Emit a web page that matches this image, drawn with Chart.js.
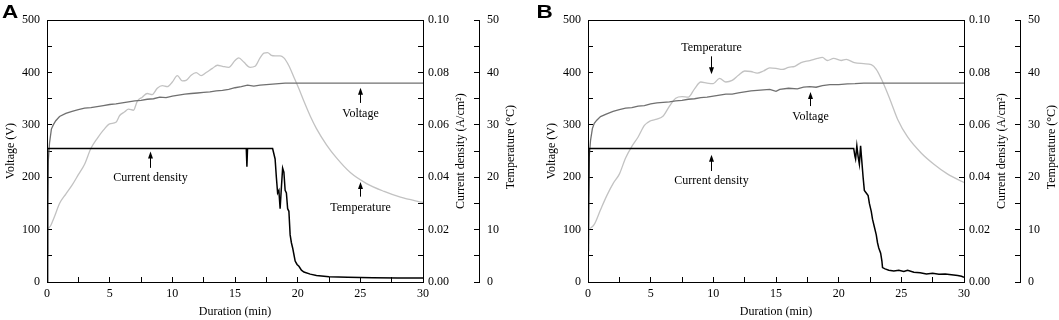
<!doctype html>
<html lang="en">

<head>
    <meta charset="utf-8">
    <title>Voltage, current density and temperature</title>
    <script src="https://cdn.jsdelivr.net/npm/chart.js"></script>
    <style>
        body { margin: 0; background: #fff; }
        .wrap { position: relative; width: 1059px; height: 320px; }
        canvas { position: absolute; top: 0; }
        #chartA { left: 0; }
        #chartB { left: 530px; }
    </style>
</head>

<body>
    <div class="wrap">
        <canvas id="chartA" width="530" height="320"></canvas>
        <canvas id="chartB" width="529" height="320"></canvas>
    </div>
</body>
<script>
    // [duration (min), value] pairs
    const voltageA = [[0, 55], [0.05, 150], [0.1, 230], [0.2, 265], [0.35, 292], [0.5, 300], [0.7, 308], [1, 316],
        [1.5, 322], [2, 326], [2.5, 329], [3, 332], [3.5, 333], [4, 335], [4.5, 337], [5, 339], [5.5, 340],
        [6, 342], [6.5, 344], [7, 346], [7.5, 347], [8, 349], [8.5, 350], [9, 353], [9.5, 352], [10, 355],
        [10.5, 357], [11, 359], [11.5, 360], [12, 361], [12.5, 362], [13, 363], [13.5, 365], [14, 366],
        [14.5, 368], [15, 371], [15.5, 373], [16, 376], [16.5, 374], [17, 376], [17.5, 377], [18, 378],
        [18.5, 379], [19, 380], [30, 380]];
    const currentA = [[0, 0], [0.05, 0.051], [15.9, 0.051], [15.95, 0.044], [16, 0.051], [18, 0.051],
        [18.1, 0.049], [18.2, 0.047], [18.3, 0.04], [18.4, 0.034], [18.5, 0.035], [18.6, 0.028], [18.7, 0.036],
        [18.8, 0.0435], [18.9, 0.042], [19, 0.035], [19.1, 0.034], [19.2, 0.028], [19.3, 0.027], [19.4, 0.018],
        [19.5, 0.015], [19.6, 0.013], [19.7, 0.0105], [19.8, 0.008], [19.95, 0.0067], [20.1, 0.006],
        [20.3, 0.0045], [20.5, 0.0038], [21, 0.003], [21.5, 0.0025], [22.5, 0.002], [24, 0.0018],
        [26, 0.0016], [28, 0.0015], [30, 0.0015]];
    const temperatureA = [[0.1, 10.2], [0.3, 10.8], [0.6, 12.5], [1, 15], [1.5, 16.8], [2, 18.5], [2.5, 20.5],
        [3, 22.5], [3.5, 25.5], [4, 27.4], [4.5, 29], [5, 30.2], [5.5, 30.5], [5.8, 31.8], [6.2, 32.5],
        [6.5, 33], [6.9, 32.8], [7.2, 34.5], [7.6, 35.3], [8, 36], [8.4, 35.8], [8.8, 37], [9.2, 37.5],
        [9.6, 37.3], [10, 38.2], [10.4, 39.4], [10.8, 38.4], [11.1, 38.5], [11.5, 39.5], [11.9, 40],
        [12.3, 39.4], [12.7, 40], [13.2, 40.8], [13.6, 41.4], [14, 41.2], [14.5, 41], [15, 42.3], [15.3, 42.8],
        [15.7, 42], [16.2, 41], [16.6, 41.2], [17, 42.8], [17.3, 43.7], [17.6, 43.8], [17.9, 43.3],
        [18.2, 43.2], [18.6, 43.2], [18.9, 42.8], [19.3, 41.3], [19.7, 39.1], [20.1, 36.9], [20.5, 34.5],
        [21, 31.7], [21.5, 29.3], [22.3, 26.2], [23.1, 23.7], [24.2, 20.9], [25.5, 18.8], [26.9, 17.3],
        [28.2, 16.2], [30, 15.2]];

    const voltageB = [[0, 60], [0.05, 160], [0.1, 240], [0.2, 270], [0.35, 293], [0.5, 303], [0.7, 309], [1, 316],
        [1.5, 321], [2, 326], [2.5, 329], [3, 332], [3.5, 333], [4, 336], [4.5, 337], [5, 340], [5.5, 342],
        [6, 343], [6.5, 344], [7, 346], [7.5, 347], [8, 349], [8.5, 350], [9, 352], [9.5, 353], [10, 355],
        [10.5, 357], [11, 359], [11.5, 359], [12, 361], [12.5, 363], [13, 365], [13.5, 366], [14, 367],
        [14.5, 368], [15, 364], [15.3, 368], [16, 370], [16.7, 369], [17.2, 372], [17.7, 373], [18.2, 372],
        [18.7, 375], [19.3, 377], [20, 377], [20.7, 378.5], [21.3, 379], [22, 380], [30, 380]];
    const currentB = [[0, 0], [0.08, 0.051], [21.2, 0.051], [21.3, 0.048], [21.35, 0.047], [21.45, 0.052],
        [21.55, 0.048], [21.65, 0.045], [21.75, 0.052], [21.85, 0.046], [21.95, 0.04], [22.05, 0.035],
        [22.2, 0.034], [22.35, 0.033], [22.45, 0.03], [22.6, 0.027], [22.7, 0.024], [22.85, 0.021], [23, 0.018],
        [23.1, 0.015], [23.2, 0.013], [23.35, 0.011], [23.45, 0.008], [23.5, 0.0055], [23.7, 0.005],
        [24, 0.0045], [24.4, 0.0042], [24.8, 0.0045], [25.2, 0.004], [25.5, 0.0045], [26, 0.0037],
        [26.5, 0.0035], [27, 0.0031], [27.5, 0.0033], [28, 0.003], [28.5, 0.0031], [29, 0.0028],
        [29.5, 0.0025], [29.8, 0.0022], [30, 0.0018]];
    const temperatureB = [[0.15, 10.2], [0.5, 11], [1, 13.8], [1.5, 16.5], [2, 18.8], [2.5, 20.6], [3, 23.7],
        [3.5, 25.9], [4, 27.7], [4.5, 29.9], [5, 30.8], [5.5, 31.1], [6, 31.7], [6.5, 33.6], [7, 35.1],
        [7.5, 35.4], [8, 35.3], [8.5, 36.9], [9, 38.2], [9.5, 38], [10, 37.9], [10.5, 38.9], [11, 38.2],
        [11.5, 38.5], [12, 39.5], [12.5, 40.3], [13, 40.2], [13.5, 39.9], [14, 40.3], [14.5, 40.9], [15, 40.8],
        [15.5, 40.6], [16, 41], [16.5, 41.2], [17, 41.9], [17.7, 42.3], [18.3, 42.7], [18.7, 42.9], [19.1, 42.3],
        [19.6, 42.7], [20.2, 42.3], [20.6, 42.5], [21.25, 41.9], [22, 41.7], [22.6, 41.5], [23, 40.6],
        [23.4, 38.8], [23.8, 36.6], [24.2, 34.2], [24.7, 31.1], [25.5, 27.7], [26.6, 24.6], [27.6, 22.5],
        [28.7, 20.6], [30, 19]];

    // arrow labels, in (duration, voltage) units
    const notesA = [
        { text: 'Current density', x: 8.2, y: 199, from: 218, to: 249 },
        { text: 'Voltage', x: 25, y: 322, from: 342, to: 371 },
        { text: 'Temperature', x: 25, y: 142, from: 163, to: 191 }
    ];
    const notesB = [
        { text: 'Temperature', x: 9.82, y: 448, from: 431, to: 397 },
        { text: 'Current density', x: 9.82, y: 193, from: 212, to: 243 },
        { text: 'Voltage', x: 17.68, y: 316, from: 336, to: 363 }
    ];

    Chart.defaults.font.family = '"Liberation Serif", "Times New Roman", serif';
    Chart.defaults.font.size = 12;
    Chart.defaults.color = '#000';

    let toXY = arr => arr.map(p => ({ x: p[0], y: p[1] }));

    let extras = (letter, letterX, notes) => ({
        id: 'extras',
        afterDraw(chart) {
            const { ctx, scales } = chart;
            ctx.save();
            ctx.fillStyle = '#000';
            ctx.strokeStyle = '#000';
            ctx.lineWidth = 1;
            ctx.font = '12px "Liberation Serif"';
            ctx.textAlign = 'center';
            ctx.textBaseline = 'middle';
            notes.forEach(n => {
                const x = Math.round(scales.x.getPixelForValue(n.x)) + 0.5;
                ctx.fillText(n.text, x, scales.y.getPixelForValue(n.y));
                const y0 = scales.y.getPixelForValue(n.from);
                const y1 = scales.y.getPixelForValue(n.to);
                const d = y1 < y0 ? 1 : -1;
                ctx.beginPath();
                ctx.moveTo(x, y0);
                ctx.lineTo(x, y1 + d * 5);
                ctx.stroke();
                ctx.beginPath();
                ctx.moveTo(x, y1);
                ctx.lineTo(x - 2.5, y1 + d * 7);
                ctx.lineTo(x + 2.5, y1 + d * 7);
                ctx.closePath();
                ctx.fill();
            });
            // right axis titles read bottom to top, like the left one
            const mid = (chart.chartArea.top + chart.chartArea.bottom) / 2;
            ctx.save();
            ctx.translate(scales.y1.left + 38, mid);
            ctx.rotate(-Math.PI / 2);
            ctx.fillText('Current density (A/cm²)', 0, 0);
            ctx.restore();
            ctx.save();
            ctx.translate(scales.y2.left + 32, mid - 4);
            ctx.rotate(-Math.PI / 2);
            ctx.fillText('Temperature (°C)', 0, 0);
            ctx.restore();
            // panel letter
            ctx.font = 'bold 18px "Liberation Sans", Arial, sans-serif';
            ctx.textAlign = 'left';
            ctx.textBaseline = 'alphabetic';
            ctx.translate(letterX, 17.5);
            ctx.scale(1.25, 1);
            ctx.fillText(letter, 0, 0);
            ctx.restore();
        }
    });

    let makeChart = (id, volt, cur, temp, notes, letter, cfg) => {
        const axisGrid = { drawOnChartArea: false, tickLength: -5, color: '#000', tickColor: '#000', tickWidth: 1 };
        const axisBorder = { color: '#000', width: 1 };
        return new Chart(document.getElementById(id), {
            type: 'line',
            data: {
                datasets: [
                    { label: 'Current density', data: toXY(cur), xAxisID: 'x', yAxisID: 'y1', borderColor: '#000', borderWidth: 1.5 },
                    { label: 'Voltage', data: toXY(volt), xAxisID: 'x', yAxisID: 'y', borderColor: '#707070', borderWidth: 1.3 },
                    { label: 'Temperature', data: toXY(temp), xAxisID: 'x', yAxisID: 'y2', borderColor: '#c2c2c2', borderWidth: 1.3, cubicInterpolationMode: 'monotone' }
                ]
            },
            options: {
                responsive: false,
                animation: false,
                elements: { point: { radius: 0 }, line: { tension: 0 } },
                plugins: { legend: { display: false }, tooltip: { enabled: false } },
                layout: { padding: { top: 11, left: 0, right: 0, bottom: 0 } },
                scales: {
                    x: {
                        type: 'linear', position: 'bottom', min: 0, max: 30,
                        ticks: { stepSize: 2.5, autoSkip: false, maxRotation: 0, padding: 10, callback: v => v % 5 === 0 ? v : '' },
                        grid: axisGrid, border: axisBorder,
                        title: { display: true, text: 'Duration (min)', padding: { top: 0, bottom: 1 } },
                        afterFit: s => { s.height = 38; }
                    },
                    xt: {
                        type: 'linear', position: 'top', min: 0, max: 30,
                        ticks: { display: false }, grid: { display: false, drawTicks: false }, border: axisBorder,
                        afterFit: s => { s.height = 0; }
                    },
                    y: {
                        position: 'left', min: 0, max: 500,
                        ticks: { stepSize: 50, autoSkip: false, padding: 12, callback: v => v % 100 === 0 ? v : '' },
                        grid: axisGrid, border: axisBorder,
                        title: { display: true, text: 'Voltage (V)', padding: { top: cfg.titlePad, bottom: 0 } },
                        afterFit: s => { s.width = cfg.leftWidth; }
                    },
                    y1: {
                        position: 'right', weight: 0, min: 0, max: 0.1,
                        ticks: { stepSize: 0.01, autoSkip: false, padding: 10, callback: v => Math.round(v * 100) % 2 === 0 ? v.toFixed(2) : '' },
                        grid: axisGrid, border: axisBorder,
                        afterFit: s => { s.width = 56; }
                    },
                    y2: {
                        position: 'right', weight: 1, min: 0, max: 50,
                        ticks: { stepSize: 5, autoSkip: false, padding: 13, callback: v => v % 10 === 0 ? v : '' },
                        grid: axisGrid, border: axisBorder,
                        afterFit: s => { s.width = cfg.tempWidth; }
                    }
                }
            },
            plugins: [extras(letter, cfg.letterX, notes)]
        });
    }

    makeChart('chartA', voltageA, currentA, temperatureA, notesA, 'A', { leftWidth: 47, titlePad: 4, tempWidth: 51, letterX: 2 });
    makeChart('chartB', voltageB, currentB, temperatureB, notesB, 'B', { leftWidth: 58, titlePad: 14.5, tempWidth: 39, letterX: 6.5 });
</script>

</html>
